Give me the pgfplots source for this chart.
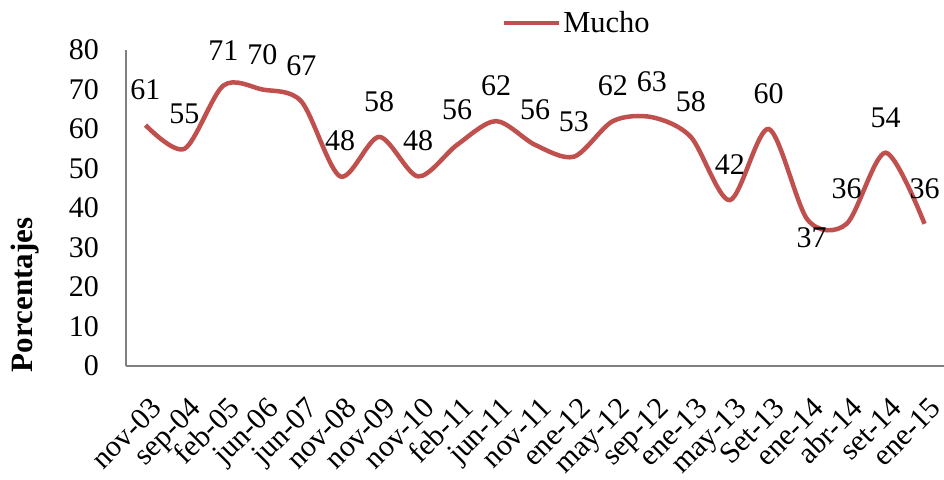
\documentclass[border=0pt]{standalone}
\usepackage{pgfplots}
\pgfplotsset{compat=1.18}
\usepackage{fontspec}
\setmainfont{Liberation Serif}
\definecolor{mred}{HTML}{C0504D}
\pgfplotsset{
  mylegend/.style={legend image code/.code={\draw[##1] (0pt,0pt) -- (55pt,0pt);}},
}
\begin{document}
\begin{tikzpicture}
\begin{axis}[
  at={(0,0)}, anchor=south west,
  width=818pt, height=316pt, scale only axis,
  xmin=-0.5, xmax=20.5, ymin=0, ymax=80,
  axis x line*=bottom, axis y line*=left,
  axis line style={draw=gray, line width=1.2pt},
  clip=false,
  ytick={0,10,...,80},
  xtick={0,...,20},
  xticklabels={nov-03,sep-04,feb-05,jun-06,jun-07,nov-08,nov-09,nov-10,feb-11,jun-11,nov-11,ene-12,may-12,sep-12,ene-13,may-13,Set-13,ene-14,abr-14,set-14,ene-15},
  major tick length=0pt,
  tick style={draw=none},
  /pgf/number format/assume math mode=true,
  ticklabel style={font=\fontsize{30}{32}\selectfont},
  yticklabel style={anchor=east, inner sep=0pt, xshift=-27pt},
  xticklabel style={inner sep=0pt, xshift=18pt, yshift=-44pt, rotate=45, anchor=base east},
  ylabel={Porcentajes},
  ylabel style={font=\bfseries\fontsize{31}{33}\selectfont, at={(axis description cs:-0.123,0.225)}, anchor=center, rotate=0},
  mylegend,
  legend style={at={(axis description cs:0.551,1.085)}, anchor=center, draw=none, fill=none,
    font=\fontsize{30.5}{33}\selectfont, inner sep=0pt},
]
\addplot[mred, line width=4.5pt, smooth] coordinates {
(0,61) (1,55) (2,71) (3,70) (4,67) (5,48) (6,58) (7,48) (8,56) (9,62) (10,56)
(11,53) (12,62) (13,63) (14,58) (15,42) (16,60) (17,37) (18,36) (19,54) (20,36)};
\addlegendentry{Mucho}
\addplot[draw=none, forget plot, nodes near coords,
  every node near coord/.append style={anchor=south, inner sep=0pt, yshift=25pt, font=\fontsize{30}{32}\selectfont, text=black}]
coordinates {
(0,61) (1,55) (2,71) (3,70) (4,67) (5,48) (6,58) (7,48) (8,56) (9,62) (10,56)
(11,53) (12,62) (13,63) (14,58) (15,42) (16,60) (18,36) (19,54) (20,36)};
\addplot[draw=none, forget plot, nodes near coords,
  every node near coord/.append style={anchor=north, inner sep=0pt, yshift=-8pt, xshift=4pt, font=\fontsize{30}{32}\selectfont, text=black}]
coordinates {(17,37)};
\end{axis}
\pgfresetboundingbox
\useasboundingbox (-126pt,-113pt) rectangle (818pt,366pt);
\end{tikzpicture}
\end{document}
